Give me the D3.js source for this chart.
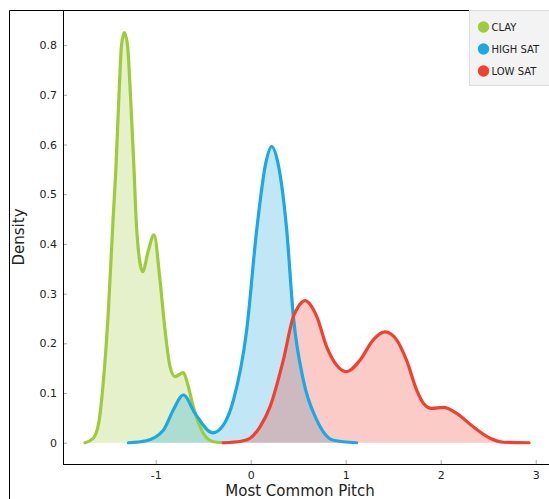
<!DOCTYPE html>
<html>
<head>
<meta charset="utf-8">
<script src="https://cdn.jsdelivr.net/npm/d3@7"></script>
<style>
  body { margin: 0; background: #fff; }
  svg { font-family: "DejaVu Sans", Verdana, sans-serif; }
</style>
</head>
<body>
<div id="chart"></div>
<script>
// Series names and colours
var seriesNames = ["CLAY", "HIGH SAT", "LOW SAT"];
var seriesColors = ["#9dcb3c", "#1ba8e3", "#ef4130"];

// Density curves (pitch value, density)
var clayX = [-1.744, -1.657, -1.6, -1.55, -1.5, -1.446, -1.42, -1.383, -1.36, -1.33, -1.297, -1.27, -1.228, -1.2, -1.137, -1.08, -1.018, -0.955, -0.902, -0.849, -0.797, -0.709, -0.66, -0.604, -0.499, -0.394, -0.29];
var clayY = [0, 0.009, 0.04, 0.126, 0.26, 0.46, 0.548, 0.716, 0.8, 0.825, 0.8, 0.716, 0.548, 0.428, 0.344, 0.385, 0.418, 0.327, 0.227, 0.153, 0.133, 0.141, 0.115, 0.072, 0.019, 0.002, 0];

var highX = [-1.288, -1.1, -0.92, -0.815, -0.709, -0.586, -0.4, -0.29, -0.183, -0.042, 0.063, 0.161, 0.221, 0.284, 0.379, 0.449, 0.554, 0.695, 0.87, 1.116];
var highY = [0, 0.004, 0.025, 0.066, 0.096, 0.059, 0.02, 0.035, 0.085, 0.227, 0.428, 0.565, 0.596, 0.565, 0.428, 0.254, 0.126, 0.046, 0.005, 0];

var lowX = [-0.29, -0.1, -0.007, 0.098, 0.203, 0.343, 0.449, 0.501, 0.572, 0.642, 0.695, 0.8, 0.905, 1.01, 1.15, 1.29, 1.414, 1.536, 1.64, 1.747, 1.82, 1.905, 2.03, 2.168, 2.343, 2.52, 2.66, 2.93];
var lowY = [0, 0.003, 0.009, 0.032, 0.072, 0.166, 0.254, 0.274, 0.286, 0.274, 0.254, 0.193, 0.156, 0.143, 0.166, 0.207, 0.223, 0.207, 0.166, 0.106, 0.079, 0.069, 0.071, 0.059, 0.032, 0.009, 0.001, 0];

// Axis ticks
var xTicks = [-1, 0, 1, 2, 3];
var yTicks = [0, 0.1, 0.2, 0.3, 0.4, 0.5, 0.6, 0.7, 0.8];

var svgWidth = 549;
var svgHeight = 499;

var plot = { left: 63, right: 549, top: 10, bottom: 464 };

var svg = d3.select("#chart")
  .append("svg")
  .attr("width", svgWidth)
  .attr("height", svgHeight);

var xScale = d3.scaleLinear()
  .domain([-1.976, 3.14])
  .range([plot.left, plot.right]);

var yScale = d3.scaleLinear()
  .domain([-0.0428, 0.8706])
  .range([plot.bottom, plot.top]);

// outer frame lines
svg.append("line")
  .attr("x1", 9.5).attr("x2", svgWidth)
  .attr("y1", 10.5).attr("y2", 10.5)
  .attr("stroke", "#000");
svg.append("line")
  .attr("x1", 9.5).attr("x2", 9.5)
  .attr("y1", 10.5).attr("y2", svgHeight)
  .attr("stroke", "#000");

// build series from arrays
var series = [
  { x: clayX, y: clayY },
  { x: highX, y: highY },
  { x: lowX, y: lowY }
].map(function(s, i) {
  return {
    name: seriesNames[i],
    color: seriesColors[i],
    points: s.x.map(function(v, j) { return [v, s.y[j]]; })
  };
});

var area = d3.area()
  .x(d => xScale(d[0]))
  .y0(yScale(0))
  .y1(d => yScale(d[1]))
  .curve(d3.curveMonotoneX);

var line = d3.line()
  .x(d => xScale(d[0]))
  .y(d => yScale(d[1]))
  .curve(d3.curveMonotoneX);

var chartGroup = svg.append("g");

series.forEach(function(s) {
  chartGroup.append("path")
    .datum(s.points)
    .attr("d", area)
    .attr("fill", s.color)
    .attr("fill-opacity", 0.27);
});

series.forEach(function(s) {
  chartGroup.append("path")
    .datum(s.points)
    .attr("d", line)
    .attr("fill", "none")
    .attr("stroke", s.color)
    .attr("stroke-width", 3.2)
    .attr("stroke-linecap", "round")
    .attr("stroke-linejoin", "round");
});

// axes
var bottomAxis = d3.axisBottom(xScale)
  .tickValues(xTicks)
  .tickSize(0)
  .tickPadding(7)
  .tickFormat(d => String(d));

var leftAxis = d3.axisLeft(yScale)
  .tickValues(yTicks)
  .tickSize(0)
  .tickPadding(6)
  .tickFormat(d => d === 0 ? "0" : d3.format(".1f")(d));

var xAxisG = svg.append("g")
  .attr("transform", `translate(0, ${plot.bottom})`)
  .call(bottomAxis);

var yAxisG = svg.append("g")
  .attr("transform", `translate(${plot.left}, 0)`)
  .call(leftAxis);

[xAxisG, yAxisG].forEach(function(g) {
  g.select(".domain").remove();
  g.selectAll("text")
    .attr("font-family", "DejaVu Sans, Verdana, sans-serif")
    .attr("font-size", "11px")
    .attr("fill", "#222");
});

// inner tick marks
xAxisG.selectAll(".tick").append("line")
  .attr("y1", 0).attr("y2", -4)
  .attr("stroke", "#aaa");
yAxisG.selectAll(".tick").append("line")
  .attr("x1", 0).attr("x2", 4)
  .attr("stroke", "#aaa");

// axis lines
svg.append("line")
  .attr("x1", plot.left + 0.5).attr("x2", plot.left + 0.5)
  .attr("y1", plot.top).attr("y2", plot.bottom + 0.5)
  .attr("stroke", "#000");
svg.append("line")
  .attr("x1", plot.left).attr("x2", plot.right)
  .attr("y1", plot.bottom + 0.5).attr("y2", plot.bottom + 0.5)
  .attr("stroke", "#000");

// axis titles
svg.append("text")
  .attr("x", 300)
  .attr("y", 496)
  .attr("text-anchor", "middle")
  .attr("font-size", "15px")
  .attr("fill", "#222")
  .text("Most Common Pitch");

svg.append("text")
  .attr("transform", "translate(24, 237) rotate(-90)")
  .attr("text-anchor", "middle")
  .attr("font-size", "15px")
  .attr("fill", "#222")
  .text("Density");

// legend
var legend = svg.append("g")
  .attr("transform", "translate(469.5, 10.5)");

legend.append("rect")
  .attr("width", 85)
  .attr("height", 75)
  .attr("fill", "#f3f3f3")
  .attr("stroke", "#ddd");

var legendItems = legend.selectAll(".item")
  .data(series)
  .enter()
  .append("g")
  .attr("transform", (d, i) => `translate(0, ${16.5 + i * 22})`);

legendItems.append("circle")
  .attr("cx", 14)
  .attr("cy", 0)
  .attr("r", 5.7)
  .attr("fill", d => d.color);

legendItems.append("text")
  .attr("x", 22)
  .attr("y", 4)
  .attr("font-size", "10px")
  .attr("fill", "#222")
  .text(d => d.name);
</script>
</body>
</html>
